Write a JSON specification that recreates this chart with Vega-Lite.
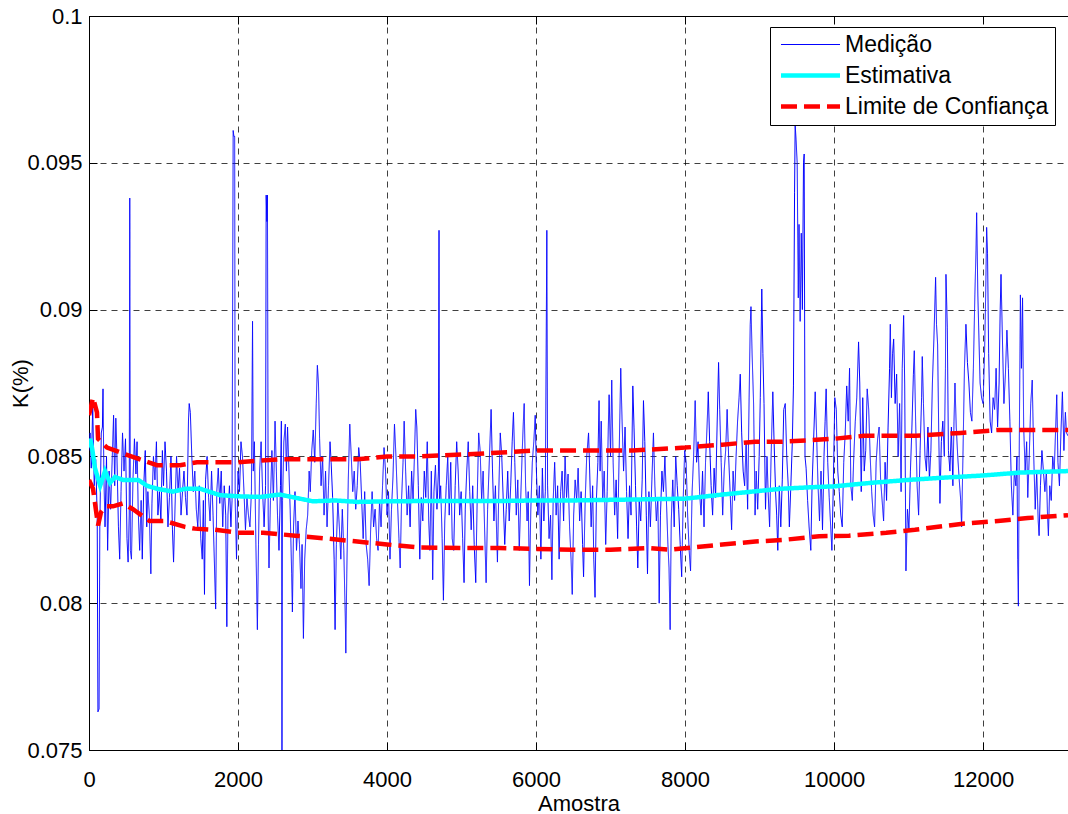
{
  "$schema": "https://vega.github.io/schema/vega-lite/v6.json",
  "width": 979,
  "height": 734,
  "autosize": {"type": "none"},
  "padding": {"left": 89, "top": 16, "right": 0, "bottom": 64},
  "background": "white",
  "config": {
    "font": "Liberation Sans",
    "view": {"stroke": "#000", "strokeWidth": 1},
    "axis": {
      "labelFont": "Liberation Sans",
      "labelFontSize": 22,
      "labelColor": "#000",
      "titleFont": "Liberation Sans",
      "titleFontSize": 22,
      "titleFontWeight": "normal",
      "titleColor": "#000",
      "domainColor": "#000",
      "tickColor": "#000",
      "tickSize": -8,
      "gridColor": "#000",
      "gridOpacity": 0.75,
      "gridDash": [6, 5],
      "gridWidth": 1
    },
    "legend": {
      "orient": "none",
      "legendX": 681,
      "legendY": 11,
      "strokeColor": "#000",
      "fillColor": "#fff",
      "padding": 6,
      "cornerRadius": 0,
      "symbolType": "M-3,0H3",
      "symbolSize": 387,
      "symbolOffset": 23,
      "labelOffset": 23,
      "rowPadding": 7,
      "labelFont": "Liberation Sans",
      "labelFontSize": 23,
      "labelColor": "#000",
      "labelLimit": 400
    }
  },
  "datasets": {
    "medicao": [
      {"amostra":0,"k":0.0852,"serie":"Medição"},{"amostra":15,"k":0.0858,"serie":"Medição"},{"amostra":30,"k":0.0846,"serie":"Medição"},{"amostra":50,"k":0.0867,"serie":"Medição"},{"amostra":70,"k":0.0840,"serie":"Medição"},{"amostra":90,"k":0.0849,"serie":"Medição"},{"amostra":110,"k":0.0830,"serie":"Medição"},{"amostra":120,"k":0.0763,"serie":"Medição"},{"amostra":135,"k":0.0764,"serie":"Medição"},{"amostra":145,"k":0.0826,"serie":"Medição"},{"amostra":165,"k":0.0858,"serie":"Medição"},{"amostra":180,"k":0.0860,"serie":"Medição"},{"amostra":188,"k":0.0873,"serie":"Medição"},{"amostra":200,"k":0.0843,"serie":"Medição"},{"amostra":215,"k":0.0826,"serie":"Medição"},{"amostra":235,"k":0.0850,"serie":"Medição"},{"amostra":250,"k":0.0818,"serie":"Medição"},{"amostra":270,"k":0.0845,"serie":"Medição"},{"amostra":290,"k":0.0832,"serie":"Medição"},{"amostra":310,"k":0.0848,"serie":"Medição"},{"amostra":330,"k":0.0864,"serie":"Medição"},{"amostra":345,"k":0.0840,"serie":"Medição"},{"amostra":360,"k":0.0863,"serie":"Medição"},{"amostra":375,"k":0.0850,"serie":"Medição"},{"amostra":395,"k":0.0826,"serie":"Medição"},{"amostra":412,"k":0.0815,"serie":"Medição"},{"amostra":430,"k":0.0838,"serie":"Medição"},{"amostra":450,"k":0.0858,"serie":"Medição"},{"amostra":470,"k":0.0845,"serie":"Medição"},{"amostra":490,"k":0.0856,"serie":"Medição"},{"amostra":510,"k":0.0822,"serie":"Medição"},{"amostra":525,"k":0.0814,"serie":"Medição"},{"amostra":540,"k":0.0830,"serie":"Medição"},{"amostra":547,"k":0.0938,"serie":"Medição"},{"amostra":555,"k":0.0818,"serie":"Medição"},{"amostra":570,"k":0.0815,"serie":"Medição"},{"amostra":590,"k":0.0842,"serie":"Medição"},{"amostra":610,"k":0.0856,"serie":"Medição"},{"amostra":630,"k":0.0844,"serie":"Medição"},{"amostra":645,"k":0.0855,"serie":"Medição"},{"amostra":660,"k":0.0832,"serie":"Medição"},{"amostra":680,"k":0.0818,"serie":"Medição"},{"amostra":700,"k":0.0835,"serie":"Medição"},{"amostra":715,"k":0.0815,"serie":"Medição"},{"amostra":735,"k":0.0840,"serie":"Medição"},{"amostra":755,"k":0.0852,"serie":"Medição"},{"amostra":775,"k":0.0826,"serie":"Medição"},{"amostra":790,"k":0.0838,"serie":"Medição"},{"amostra":810,"k":0.0830,"serie":"Medição"},{"amostra":830,"k":0.0810,"serie":"Medição"},{"amostra":845,"k":0.0834,"serie":"Medição"},{"amostra":865,"k":0.0850,"serie":"Medição"},{"amostra":885,"k":0.0842,"serie":"Medição"},{"amostra":905,"k":0.0855,"serie":"Medição"},{"amostra":925,"k":0.0830,"serie":"Medição"},{"amostra":945,"k":0.0838,"serie":"Medição"},{"amostra":965,"k":0.0828,"serie":"Medição"},{"amostra":985,"k":0.0852,"serie":"Medição"},{"amostra":1000,"k":0.0840,"serie":"Medição"},{"amostra":1020,"k":0.0855,"serie":"Medição"},{"amostra":1040,"k":0.0845,"serie":"Medição"},{"amostra":1060,"k":0.0826,"serie":"Medição"},{"amostra":1080,"k":0.0836,"serie":"Medição"},{"amostra":1100,"k":0.0850,"serie":"Medição"},{"amostra":1120,"k":0.0825,"serie":"Medição"},{"amostra":1135,"k":0.0814,"serie":"Medição"},{"amostra":1155,"k":0.0833,"serie":"Medição"},{"amostra":1175,"k":0.0850,"serie":"Medição"},{"amostra":1195,"k":0.0838,"serie":"Medição"},{"amostra":1215,"k":0.0846,"serie":"Medição"},{"amostra":1235,"k":0.0830,"serie":"Medição"},{"amostra":1255,"k":0.0838,"serie":"Medição"},{"amostra":1275,"k":0.0845,"serie":"Medição"},{"amostra":1295,"k":0.0836,"serie":"Medição"},{"amostra":1315,"k":0.0830,"serie":"Medição"},{"amostra":1335,"k":0.0862,"serie":"Medição"},{"amostra":1345,"k":0.0868,"serie":"Medição"},{"amostra":1360,"k":0.0865,"serie":"Medição"},{"amostra":1380,"k":0.0850,"serie":"Medição"},{"amostra":1400,"k":0.0838,"serie":"Medição"},{"amostra":1420,"k":0.0845,"serie":"Medição"},{"amostra":1440,"k":0.0832,"serie":"Medição"},{"amostra":1460,"k":0.0826,"serie":"Medição"},{"amostra":1480,"k":0.0840,"serie":"Medição"},{"amostra":1500,"k":0.0822,"serie":"Medição"},{"amostra":1520,"k":0.0815,"serie":"Medição"},{"amostra":1535,"k":0.0835,"serie":"Medição"},{"amostra":1550,"k":0.0803,"serie":"Medição"},{"amostra":1565,"k":0.0842,"serie":"Medição"},{"amostra":1585,"k":0.0850,"serie":"Medição"},{"amostra":1605,"k":0.0836,"serie":"Medição"},{"amostra":1625,"k":0.0828,"serie":"Medição"},{"amostra":1645,"k":0.0845,"serie":"Medição"},{"amostra":1665,"k":0.0830,"serie":"Medição"},{"amostra":1685,"k":0.0812,"serie":"Medição"},{"amostra":1700,"k":0.0798,"serie":"Medição"},{"amostra":1715,"k":0.0838,"serie":"Medição"},{"amostra":1735,"k":0.0846,"serie":"Medição"},{"amostra":1755,"k":0.0834,"serie":"Medição"},{"amostra":1775,"k":0.0845,"serie":"Medição"},{"amostra":1795,"k":0.0826,"serie":"Medição"},{"amostra":1815,"k":0.0840,"serie":"Medição"},{"amostra":1835,"k":0.0830,"serie":"Medição"},{"amostra":1850,"k":0.0792,"serie":"Medição"},{"amostra":1865,"k":0.0830,"serie":"Medição"},{"amostra":1885,"k":0.0840,"serie":"Medição"},{"amostra":1905,"k":0.0826,"serie":"Medição"},{"amostra":1920,"k":0.0835,"serie":"Medição"},{"amostra":1935,"k":0.0961,"serie":"Medição"},{"amostra":1945,"k":0.0959,"serie":"Medição"},{"amostra":1955,"k":0.0959,"serie":"Medição"},{"amostra":1962,"k":0.0835,"serie":"Medição"},{"amostra":1980,"k":0.0815,"serie":"Medição"},{"amostra":2000,"k":0.0845,"serie":"Medição"},{"amostra":2020,"k":0.0838,"serie":"Medição"},{"amostra":2040,"k":0.0855,"serie":"Medição"},{"amostra":2060,"k":0.0850,"serie":"Medição"},{"amostra":2080,"k":0.0838,"serie":"Medição"},{"amostra":2100,"k":0.0825,"serie":"Medição"},{"amostra":2120,"k":0.0836,"serie":"Medição"},{"amostra":2140,"k":0.0830,"serie":"Medição"},{"amostra":2160,"k":0.0826,"serie":"Medição"},{"amostra":2180,"k":0.0838,"serie":"Medição"},{"amostra":2195,"k":0.0896,"serie":"Medição"},{"amostra":2205,"k":0.0845,"serie":"Medição"},{"amostra":2220,"k":0.0855,"serie":"Medição"},{"amostra":2240,"k":0.0820,"serie":"Medição"},{"amostra":2260,"k":0.0791,"serie":"Medição"},{"amostra":2275,"k":0.0820,"serie":"Medição"},
      {"amostra":2290,"k":0.0845,"serie":"Medição"},{"amostra":2310,"k":0.0855,"serie":"Medição"},{"amostra":2330,"k":0.0838,"serie":"Medição"},{"amostra":2350,"k":0.0826,"serie":"Medição"},{"amostra":2370,"k":0.0840,"serie":"Medição"},{"amostra":2378,"k":0.0939,"serie":"Medição"},{"amostra":2388,"k":0.0930,"serie":"Medição"},{"amostra":2395,"k":0.0939,"serie":"Medição"},{"amostra":2405,"k":0.0830,"serie":"Medição"},{"amostra":2416,"k":0.0812,"serie":"Medição"},{"amostra":2435,"k":0.0835,"serie":"Medição"},{"amostra":2455,"k":0.0852,"serie":"Medição"},{"amostra":2475,"k":0.0835,"serie":"Medição"},{"amostra":2497,"k":0.0862,"serie":"Medição"},{"amostra":2515,"k":0.0845,"serie":"Medição"},{"amostra":2530,"k":0.0830,"serie":"Medição"},{"amostra":2550,"k":0.0818,"serie":"Medição"},{"amostra":2570,"k":0.0840,"serie":"Medição"},{"amostra":2582,"k":0.0862,"serie":"Medição"},{"amostra":2590,"k":0.0750,"serie":"Medição"},{"amostra":2598,"k":0.0835,"serie":"Medição"},{"amostra":2615,"k":0.0855,"serie":"Medição"},{"amostra":2635,"k":0.0861,"serie":"Medição"},{"amostra":2650,"k":0.0845,"serie":"Medição"},{"amostra":2665,"k":0.0860,"serie":"Medição"},{"amostra":2680,"k":0.0848,"serie":"Medição"},{"amostra":2700,"k":0.0832,"serie":"Medição"},{"amostra":2720,"k":0.0810,"serie":"Medição"},{"amostra":2730,"k":0.0797,"serie":"Medição"},{"amostra":2745,"k":0.0826,"serie":"Medição"},{"amostra":2765,"k":0.0838,"serie":"Medição"},{"amostra":2785,"k":0.0818,"serie":"Medição"},{"amostra":2805,"k":0.0828,"serie":"Medição"},{"amostra":2825,"k":0.0820,"serie":"Medição"},{"amostra":2845,"k":0.0805,"serie":"Medição"},{"amostra":2860,"k":0.0820,"serie":"Medição"},{"amostra":2878,"k":0.0788,"serie":"Medição"},{"amostra":2895,"k":0.0815,"serie":"Medição"},{"amostra":2915,"k":0.0825,"serie":"Medição"},{"amostra":2935,"k":0.0830,"serie":"Medição"},{"amostra":2955,"k":0.0845,"serie":"Medição"},{"amostra":2970,"k":0.0838,"serie":"Medição"},{"amostra":2990,"k":0.0852,"serie":"Medição"},{"amostra":3010,"k":0.0859,"serie":"Medição"},{"amostra":3030,"k":0.0848,"serie":"Medição"},{"amostra":3050,"k":0.0868,"serie":"Medição"},{"amostra":3065,"k":0.0881,"serie":"Medição"},{"amostra":3080,"k":0.0875,"serie":"Medição"},{"amostra":3095,"k":0.0856,"serie":"Medição"},{"amostra":3115,"k":0.0840,"serie":"Medição"},{"amostra":3135,"k":0.0850,"serie":"Medição"},{"amostra":3155,"k":0.0830,"serie":"Medição"},{"amostra":3175,"k":0.0845,"serie":"Medição"},{"amostra":3195,"k":0.0826,"serie":"Medição"},{"amostra":3215,"k":0.0840,"serie":"Medição"},{"amostra":3235,"k":0.0855,"serie":"Medição"},{"amostra":3250,"k":0.0848,"serie":"Medição"},{"amostra":3270,"k":0.0836,"serie":"Medição"},{"amostra":3290,"k":0.0815,"serie":"Medição"},{"amostra":3303,"k":0.0791,"serie":"Medição"},{"amostra":3320,"k":0.0820,"serie":"Medição"},{"amostra":3340,"k":0.0835,"serie":"Medição"},{"amostra":3360,"k":0.0826,"serie":"Medição"},{"amostra":3380,"k":0.0815,"serie":"Medição"},{"amostra":3400,"k":0.0832,"serie":"Medição"},{"amostra":3420,"k":0.0818,"serie":"Medição"},{"amostra":3440,"k":0.0795,"serie":"Medição"},{"amostra":3447,"k":0.0783,"serie":"Medição"},{"amostra":3460,"k":0.0810,"serie":"Medição"},{"amostra":3480,"k":0.0842,"serie":"Medição"},{"amostra":3500,"k":0.0861,"serie":"Medição"},{"amostra":3520,"k":0.0850,"serie":"Medição"},{"amostra":3540,"k":0.0838,"serie":"Medição"},{"amostra":3560,"k":0.0845,"serie":"Medição"},{"amostra":3580,"k":0.0832,"serie":"Medição"},{"amostra":3600,"k":0.0840,"serie":"Medição"},{"amostra":3620,"k":0.0853,"serie":"Medição"},{"amostra":3640,"k":0.0848,"serie":"Medição"},{"amostra":3660,"k":0.0835,"serie":"Medição"},{"amostra":3680,"k":0.0822,"serie":"Medição"},{"amostra":3700,"k":0.0838,"serie":"Medição"},{"amostra":3720,"k":0.0820,"serie":"Medição"},{"amostra":3740,"k":0.0815,"serie":"Medição"},{"amostra":3760,"k":0.0806,"serie":"Medição"},{"amostra":3780,"k":0.0825,"serie":"Medição"},{"amostra":3800,"k":0.0838,"serie":"Medição"},{"amostra":3820,"k":0.0826,"serie":"Medição"},{"amostra":3840,"k":0.0832,"serie":"Medição"},{"amostra":3860,"k":0.0822,"serie":"Medição"},{"amostra":3880,"k":0.0818,"serie":"Medição"},{"amostra":3900,"k":0.0835,"serie":"Medição"},{"amostra":3920,"k":0.0826,"serie":"Medição"},{"amostra":3940,"k":0.0840,"serie":"Medição"},{"amostra":3960,"k":0.0853,"serie":"Medição"},{"amostra":3980,"k":0.0845,"serie":"Medição"},{"amostra":4000,"k":0.0830,"serie":"Medição"},{"amostra":4020,"k":0.0838,"serie":"Medição"},{"amostra":4040,"k":0.0815,"serie":"Medição"},{"amostra":4060,"k":0.0832,"serie":"Medição"},{"amostra":4080,"k":0.0843,"serie":"Medição"},{"amostra":4100,"k":0.0861,"serie":"Medição"},{"amostra":4120,"k":0.0850,"serie":"Medição"},{"amostra":4140,"k":0.0835,"serie":"Medição"},{"amostra":4160,"k":0.0822,"serie":"Medição"},{"amostra":4177,"k":0.0812,"serie":"Medição"},{"amostra":4195,"k":0.0835,"serie":"Medição"},{"amostra":4215,"k":0.0848,"serie":"Medição"},{"amostra":4230,"k":0.0862,"serie":"Medição"},{"amostra":4250,"k":0.0845,"serie":"Medição"},{"amostra":4270,"k":0.0830,"serie":"Medição"},{"amostra":4290,"k":0.0840,"serie":"Medição"},{"amostra":4310,"k":0.0826,"serie":"Medição"},{"amostra":4330,"k":0.0845,"serie":"Medição"},{"amostra":4350,"k":0.0835,"serie":"Medição"},{"amostra":4370,"k":0.0852,"serie":"Medição"},{"amostra":4385,"k":0.0866,"serie":"Medição"},{"amostra":4400,"k":0.0860,"serie":"Medição"},{"amostra":4420,"k":0.0840,"serie":"Medição"},{"amostra":4440,"k":0.0815,"serie":"Medição"},{"amostra":4460,"k":0.0836,"serie":"Medição"},{"amostra":4480,"k":0.0828,"serie":"Medição"},{"amostra":4500,"k":0.0845,"serie":"Medição"},
      {"amostra":4520,"k":0.0836,"serie":"Medição"},{"amostra":4540,"k":0.0855,"serie":"Medição"},{"amostra":4560,"k":0.0828,"serie":"Medição"},{"amostra":4575,"k":0.0818,"serie":"Medição"},{"amostra":4595,"k":0.0845,"serie":"Medição"},{"amostra":4613,"k":0.0808,"serie":"Medição"},{"amostra":4630,"k":0.0838,"serie":"Medição"},{"amostra":4650,"k":0.0847,"serie":"Medição"},{"amostra":4670,"k":0.0832,"serie":"Medição"},{"amostra":4690,"k":0.0845,"serie":"Medição"},{"amostra":4698,"k":0.0927,"serie":"Medição"},{"amostra":4705,"k":0.0835,"serie":"Medição"},{"amostra":4720,"k":0.0840,"serie":"Medição"},{"amostra":4740,"k":0.0822,"serie":"Medição"},{"amostra":4757,"k":0.0801,"serie":"Medição"},{"amostra":4775,"k":0.0828,"serie":"Medição"},{"amostra":4795,"k":0.0840,"serie":"Medição"},{"amostra":4815,"k":0.0850,"serie":"Medição"},{"amostra":4835,"k":0.0830,"serie":"Medição"},{"amostra":4855,"k":0.0848,"serie":"Medição"},{"amostra":4875,"k":0.0822,"serie":"Medição"},{"amostra":4895,"k":0.0818,"serie":"Medição"},{"amostra":4915,"k":0.0840,"serie":"Medição"},{"amostra":4935,"k":0.0855,"serie":"Medição"},{"amostra":4955,"k":0.0845,"serie":"Medição"},{"amostra":4975,"k":0.0830,"serie":"Medição"},{"amostra":4995,"k":0.0838,"serie":"Medição"},{"amostra":5015,"k":0.0822,"serie":"Medição"},{"amostra":5034,"k":0.0807,"serie":"Medição"},{"amostra":5050,"k":0.0832,"serie":"Medição"},{"amostra":5070,"k":0.0845,"serie":"Medição"},{"amostra":5090,"k":0.0855,"serie":"Medição"},{"amostra":5110,"k":0.0838,"serie":"Medição"},{"amostra":5130,"k":0.0825,"serie":"Medição"},{"amostra":5150,"k":0.0840,"serie":"Medição"},{"amostra":5170,"k":0.0820,"serie":"Medição"},{"amostra":5191,"k":0.0807,"serie":"Medição"},{"amostra":5210,"k":0.0835,"serie":"Medição"},{"amostra":5230,"k":0.0858,"serie":"Medição"},{"amostra":5250,"k":0.0852,"serie":"Medição"},{"amostra":5270,"k":0.0835,"serie":"Medição"},{"amostra":5290,"k":0.0845,"serie":"Medição"},{"amostra":5310,"k":0.0825,"serie":"Medição"},{"amostra":5330,"k":0.0807,"serie":"Medição"},{"amostra":5350,"k":0.0832,"serie":"Medição"},{"amostra":5375,"k":0.0850,"serie":"Medição"},{"amostra":5397,"k":0.0866,"serie":"Medição"},{"amostra":5415,"k":0.0846,"serie":"Medição"},{"amostra":5435,"k":0.0828,"serie":"Medição"},{"amostra":5455,"k":0.0840,"serie":"Medição"},{"amostra":5470,"k":0.0825,"serie":"Medição"},{"amostra":5482,"k":0.0814,"serie":"Medição"},{"amostra":5500,"k":0.0838,"serie":"Medição"},{"amostra":5520,"k":0.0858,"serie":"Medição"},{"amostra":5540,"k":0.0850,"serie":"Medição"},{"amostra":5560,"k":0.0835,"serie":"Medição"},{"amostra":5580,"k":0.0820,"serie":"Medição"},{"amostra":5600,"k":0.0832,"serie":"Medição"},{"amostra":5620,"k":0.0845,"serie":"Medição"},{"amostra":5640,"k":0.0828,"serie":"Medição"},{"amostra":5660,"k":0.0840,"serie":"Medição"},{"amostra":5680,"k":0.0855,"serie":"Medição"},{"amostra":5697,"k":0.0865,"serie":"Medição"},{"amostra":5715,"k":0.0848,"serie":"Medição"},{"amostra":5735,"k":0.0830,"serie":"Medição"},{"amostra":5755,"k":0.0842,"serie":"Medição"},{"amostra":5775,"k":0.0818,"serie":"Medição"},{"amostra":5795,"k":0.0836,"serie":"Medição"},{"amostra":5815,"k":0.0852,"serie":"Medição"},{"amostra":5830,"k":0.0862,"serie":"Medição"},{"amostra":5841,"k":0.0868,"serie":"Medição"},{"amostra":5860,"k":0.0840,"serie":"Medição"},{"amostra":5880,"k":0.0828,"serie":"Medição"},{"amostra":5895,"k":0.0838,"serie":"Medição"},{"amostra":5912,"k":0.0806,"serie":"Medição"},{"amostra":5930,"k":0.0832,"serie":"Medição"},{"amostra":5950,"k":0.0848,"serie":"Medição"},{"amostra":5970,"k":0.0855,"serie":"Medição"},{"amostra":5989,"k":0.0864,"serie":"Medição"},{"amostra":6005,"k":0.0845,"serie":"Medição"},{"amostra":6025,"k":0.0830,"serie":"Medição"},{"amostra":6045,"k":0.0840,"serie":"Medição"},{"amostra":6065,"k":0.0815,"serie":"Medição"},{"amostra":6085,"k":0.0846,"serie":"Medição"},{"amostra":6105,"k":0.0828,"serie":"Medição"},{"amostra":6125,"k":0.0838,"serie":"Medição"},{"amostra":6145,"k":0.0927,"serie":"Medição"},{"amostra":6155,"k":0.0840,"serie":"Medição"},{"amostra":6175,"k":0.0822,"serie":"Medição"},{"amostra":6195,"k":0.0830,"serie":"Medição"},{"amostra":6213,"k":0.0808,"serie":"Medição"},{"amostra":6230,"k":0.0835,"serie":"Medição"},{"amostra":6250,"k":0.0848,"serie":"Medição"},{"amostra":6270,"k":0.0830,"serie":"Medição"},{"amostra":6290,"k":0.0840,"serie":"Medição"},{"amostra":6310,"k":0.0815,"serie":"Medição"},{"amostra":6330,"k":0.0838,"serie":"Medição"},{"amostra":6350,"k":0.0845,"serie":"Medição"},{"amostra":6370,"k":0.0828,"serie":"Medição"},{"amostra":6390,"k":0.0850,"serie":"Medição"},{"amostra":6410,"k":0.0836,"serie":"Medição"},{"amostra":6430,"k":0.0844,"serie":"Medição"},{"amostra":6450,"k":0.0826,"serie":"Medição"},{"amostra":6470,"k":0.0815,"serie":"Medição"},{"amostra":6486,"k":0.0803,"serie":"Medição"},{"amostra":6505,"k":0.0830,"serie":"Medição"},{"amostra":6525,"k":0.0842,"serie":"Medição"},{"amostra":6545,"k":0.0835,"serie":"Medição"},{"amostra":6565,"k":0.0846,"serie":"Medição"},{"amostra":6585,"k":0.0828,"serie":"Medição"},{"amostra":6605,"k":0.0838,"serie":"Medição"},{"amostra":6625,"k":0.0820,"serie":"Medição"},{"amostra":6638,"k":0.0809,"serie":"Medição"},{"amostra":6660,"k":0.0835,"serie":"Medição"},{"amostra":6680,"k":0.0850,"serie":"Medição"},{"amostra":6705,"k":0.0858,"serie":"Medição"},{"amostra":6720,"k":0.0845,"serie":"Medição"},
      {"amostra":6740,"k":0.0826,"serie":"Medição"},{"amostra":6760,"k":0.0840,"serie":"Medição"},{"amostra":6775,"k":0.0815,"serie":"Medição"},{"amostra":6792,"k":0.0802,"serie":"Medição"},{"amostra":6810,"k":0.0835,"serie":"Medição"},{"amostra":6830,"k":0.0848,"serie":"Medição"},{"amostra":6846,"k":0.0869,"serie":"Medição"},{"amostra":6860,"k":0.0845,"serie":"Medição"},{"amostra":6875,"k":0.0862,"serie":"Medição"},{"amostra":6895,"k":0.0835,"serie":"Medição"},{"amostra":6915,"k":0.0845,"serie":"Medição"},{"amostra":6935,"k":0.0820,"serie":"Medição"},{"amostra":6955,"k":0.0838,"serie":"Medição"},{"amostra":6970,"k":0.0860,"serie":"Medição"},{"amostra":6981,"k":0.0871,"serie":"Medição"},{"amostra":7000,"k":0.0850,"serie":"Medição"},{"amostra":7016,"k":0.0876,"serie":"Medição"},{"amostra":7035,"k":0.0848,"serie":"Medição"},{"amostra":7055,"k":0.0830,"serie":"Medição"},{"amostra":7075,"k":0.0842,"serie":"Medição"},{"amostra":7095,"k":0.0822,"serie":"Medição"},{"amostra":7115,"k":0.0850,"serie":"Medição"},{"amostra":7137,"k":0.0880,"serie":"Medição"},{"amostra":7155,"k":0.0862,"serie":"Medição"},{"amostra":7175,"k":0.0845,"serie":"Medição"},{"amostra":7195,"k":0.0860,"serie":"Medição"},{"amostra":7215,"k":0.0838,"serie":"Medição"},{"amostra":7235,"k":0.0822,"serie":"Medição"},{"amostra":7255,"k":0.0840,"serie":"Medição"},{"amostra":7275,"k":0.0830,"serie":"Medição"},{"amostra":7299,"k":0.0874,"serie":"Medição"},{"amostra":7315,"k":0.0860,"serie":"Medição"},{"amostra":7335,"k":0.0840,"serie":"Medição"},{"amostra":7350,"k":0.0826,"serie":"Medição"},{"amostra":7366,"k":0.0812,"serie":"Medição"},{"amostra":7385,"k":0.0835,"serie":"Medição"},{"amostra":7405,"k":0.0828,"serie":"Medição"},{"amostra":7425,"k":0.0842,"serie":"Medição"},{"amostra":7442,"k":0.0869,"serie":"Medição"},{"amostra":7460,"k":0.0855,"serie":"Medição"},{"amostra":7480,"k":0.0830,"serie":"Medição"},{"amostra":7496,"k":0.0810,"serie":"Medição"},{"amostra":7515,"k":0.0838,"serie":"Medição"},{"amostra":7535,"k":0.0826,"serie":"Medição"},{"amostra":7555,"k":0.0842,"serie":"Medição"},{"amostra":7576,"k":0.0858,"serie":"Medição"},{"amostra":7595,"k":0.0840,"serie":"Medição"},{"amostra":7615,"k":0.0828,"serie":"Medição"},{"amostra":7635,"k":0.0836,"serie":"Medição"},{"amostra":7653,"k":0.0800,"serie":"Medição"},{"amostra":7670,"k":0.0830,"serie":"Medição"},{"amostra":7690,"k":0.0845,"serie":"Medição"},{"amostra":7710,"k":0.0838,"serie":"Medição"},{"amostra":7730,"k":0.0850,"serie":"Medição"},{"amostra":7750,"k":0.0835,"serie":"Medição"},{"amostra":7770,"k":0.0820,"serie":"Medição"},{"amostra":7785,"k":0.0812,"serie":"Medição"},{"amostra":7800,"k":0.0791,"serie":"Medição"},{"amostra":7815,"k":0.0828,"serie":"Medição"},{"amostra":7835,"k":0.0842,"serie":"Medição"},{"amostra":7855,"k":0.0826,"serie":"Medição"},{"amostra":7875,"k":0.0850,"serie":"Medição"},{"amostra":7895,"k":0.0840,"serie":"Medição"},{"amostra":7915,"k":0.0832,"serie":"Medição"},{"amostra":7935,"k":0.0820,"serie":"Medição"},{"amostra":7955,"k":0.0809,"serie":"Medição"},{"amostra":7975,"k":0.0835,"serie":"Medição"},{"amostra":7995,"k":0.0852,"serie":"Medição"},{"amostra":8015,"k":0.0848,"serie":"Medição"},{"amostra":8035,"k":0.0830,"serie":"Medição"},{"amostra":8055,"k":0.0818,"serie":"Medição"},{"amostra":8074,"k":0.0811,"serie":"Medição"},{"amostra":8095,"k":0.0838,"serie":"Medição"},{"amostra":8115,"k":0.0850,"serie":"Medição"},{"amostra":8136,"k":0.0869,"serie":"Medição"},{"amostra":8155,"k":0.0848,"serie":"Medição"},{"amostra":8175,"k":0.0855,"serie":"Medição"},{"amostra":8195,"k":0.0838,"serie":"Medição"},{"amostra":8215,"k":0.0830,"serie":"Medição"},{"amostra":8235,"k":0.0845,"serie":"Medição"},{"amostra":8255,"k":0.0826,"serie":"Medição"},{"amostra":8275,"k":0.0848,"serie":"Medição"},{"amostra":8295,"k":0.0860,"serie":"Medição"},{"amostra":8312,"k":0.0872,"serie":"Medição"},{"amostra":8330,"k":0.0855,"serie":"Medição"},{"amostra":8350,"k":0.0840,"serie":"Medição"},{"amostra":8370,"k":0.0830,"serie":"Medição"},{"amostra":8390,"k":0.0846,"serie":"Medição"},{"amostra":8410,"k":0.0836,"serie":"Medição"},{"amostra":8430,"k":0.0860,"serie":"Medição"},{"amostra":8450,"k":0.0882,"serie":"Medição"},{"amostra":8465,"k":0.0866,"serie":"Medição"},{"amostra":8485,"k":0.0848,"serie":"Medição"},{"amostra":8505,"k":0.0830,"serie":"Medição"},{"amostra":8525,"k":0.0845,"serie":"Medição"},{"amostra":8545,"k":0.0852,"serie":"Medição"},{"amostra":8565,"k":0.0866,"serie":"Medição"},{"amostra":8585,"k":0.0850,"serie":"Medição"},{"amostra":8605,"k":0.0838,"serie":"Medição"},{"amostra":8625,"k":0.0825,"serie":"Medição"},{"amostra":8645,"k":0.0845,"serie":"Medição"},{"amostra":8665,"k":0.0835,"serie":"Medição"},{"amostra":8685,"k":0.0850,"serie":"Medição"},{"amostra":8705,"k":0.0862,"serie":"Medição"},{"amostra":8725,"k":0.0870,"serie":"Medição"},{"amostra":8741,"k":0.0878,"serie":"Medição"},{"amostra":8760,"k":0.0858,"serie":"Medição"},{"amostra":8780,"k":0.0845,"serie":"Medição"},{"amostra":8800,"k":0.0840,"serie":"Medição"},{"amostra":8820,"k":0.0855,"serie":"Medição"},{"amostra":8840,"k":0.0832,"serie":"Medição"},{"amostra":8860,"k":0.0870,"serie":"Medição"},{"amostra":8875,"k":0.0895,"serie":"Medição"},{"amostra":8885,"k":0.0901,"serie":"Medição"},{"amostra":8900,"k":0.0885,"serie":"Medição"},{"amostra":8920,"k":0.0868,"serie":"Medição"},{"amostra":8940,"k":0.0830,"serie":"Medição"},
      {"amostra":8955,"k":0.0845,"serie":"Medição"},{"amostra":8975,"k":0.0832,"serie":"Medição"},{"amostra":8995,"k":0.0850,"serie":"Medição"},{"amostra":9010,"k":0.0870,"serie":"Medição"},{"amostra":9030,"k":0.0907,"serie":"Medição"},{"amostra":9045,"k":0.0885,"serie":"Medição"},{"amostra":9060,"k":0.0868,"serie":"Medição"},{"amostra":9080,"k":0.0832,"serie":"Medição"},{"amostra":9100,"k":0.0850,"serie":"Medição"},{"amostra":9115,"k":0.0838,"serie":"Medição"},{"amostra":9135,"k":0.0826,"serie":"Medição"},{"amostra":9155,"k":0.0850,"serie":"Medição"},{"amostra":9178,"k":0.0872,"serie":"Medição"},{"amostra":9195,"k":0.0855,"serie":"Medição"},{"amostra":9215,"k":0.0838,"serie":"Medição"},{"amostra":9230,"k":0.0830,"serie":"Medição"},{"amostra":9245,"k":0.0818,"serie":"Medição"},{"amostra":9265,"k":0.0840,"serie":"Medição"},{"amostra":9285,"k":0.0826,"serie":"Medição"},{"amostra":9305,"k":0.0842,"serie":"Medição"},{"amostra":9325,"k":0.0866,"serie":"Medição"},{"amostra":9345,"k":0.0868,"serie":"Medição"},{"amostra":9365,"k":0.0850,"serie":"Medição"},{"amostra":9385,"k":0.0840,"serie":"Medição"},{"amostra":9400,"k":0.0826,"serie":"Medição"},{"amostra":9420,"k":0.0840,"serie":"Medição"},{"amostra":9440,"k":0.0855,"serie":"Medição"},{"amostra":9455,"k":0.0874,"serie":"Medição"},{"amostra":9470,"k":0.0940,"serie":"Medição"},{"amostra":9478,"k":0.0963,"serie":"Medição"},{"amostra":9490,"k":0.0958,"serie":"Medição"},{"amostra":9505,"k":0.0950,"serie":"Medição"},{"amostra":9520,"k":0.0904,"serie":"Medição"},{"amostra":9530,"k":0.0929,"serie":"Medição"},{"amostra":9545,"k":0.0896,"serie":"Medição"},{"amostra":9560,"k":0.0926,"serie":"Medição"},{"amostra":9575,"k":0.0900,"serie":"Medição"},{"amostra":9590,"k":0.0950,"serie":"Medição"},{"amostra":9599,"k":0.0953,"serie":"Medição"},{"amostra":9610,"k":0.0850,"serie":"Medição"},{"amostra":9625,"k":0.0846,"serie":"Medição"},{"amostra":9645,"k":0.0835,"serie":"Medição"},{"amostra":9665,"k":0.0826,"serie":"Medição"},{"amostra":9688,"k":0.0818,"serie":"Medição"},{"amostra":9705,"k":0.0840,"serie":"Medição"},{"amostra":9725,"k":0.0855,"serie":"Medição"},{"amostra":9747,"k":0.0872,"serie":"Medição"},{"amostra":9765,"k":0.0858,"serie":"Medição"},{"amostra":9785,"k":0.0840,"serie":"Medição"},{"amostra":9805,"k":0.0828,"serie":"Medição"},{"amostra":9825,"k":0.0845,"serie":"Medição"},{"amostra":9845,"k":0.0825,"serie":"Medição"},{"amostra":9865,"k":0.0850,"serie":"Medição"},{"amostra":9880,"k":0.0862,"serie":"Medição"},{"amostra":9894,"k":0.0873,"serie":"Medição"},{"amostra":9915,"k":0.0848,"serie":"Medição"},{"amostra":9935,"k":0.0836,"serie":"Medição"},{"amostra":9955,"k":0.0826,"serie":"Medição"},{"amostra":9971,"k":0.0818,"serie":"Medição"},{"amostra":9990,"k":0.0840,"serie":"Medição"},{"amostra":10010,"k":0.0870,"serie":"Medição"},{"amostra":10030,"k":0.0866,"serie":"Medição"},{"amostra":10050,"k":0.0845,"serie":"Medição"},{"amostra":10070,"k":0.0838,"serie":"Medição"},{"amostra":10090,"k":0.0830,"serie":"Medição"},{"amostra":10110,"k":0.0826,"serie":"Medição"},{"amostra":10130,"k":0.0848,"serie":"Medição"},{"amostra":10150,"k":0.0858,"serie":"Medição"},{"amostra":10170,"k":0.0874,"serie":"Medição"},{"amostra":10190,"k":0.0862,"serie":"Medição"},{"amostra":10208,"k":0.0880,"serie":"Medição"},{"amostra":10225,"k":0.0840,"serie":"Medição"},{"amostra":10245,"k":0.0835,"serie":"Medição"},{"amostra":10265,"k":0.0850,"serie":"Medição"},{"amostra":10285,"k":0.0862,"serie":"Medição"},{"amostra":10305,"k":0.0870,"serie":"Medição"},{"amostra":10329,"k":0.0889,"serie":"Medição"},{"amostra":10345,"k":0.0875,"serie":"Medição"},{"amostra":10365,"k":0.0838,"serie":"Medição"},{"amostra":10385,"k":0.0870,"serie":"Medição"},{"amostra":10405,"k":0.0845,"serie":"Medição"},{"amostra":10425,"k":0.0852,"serie":"Medição"},{"amostra":10445,"k":0.0873,"serie":"Medição"},{"amostra":10465,"k":0.0866,"serie":"Medição"},{"amostra":10485,"k":0.0850,"serie":"Medição"},{"amostra":10505,"k":0.0838,"serie":"Medição"},{"amostra":10525,"k":0.0830,"serie":"Medição"},{"amostra":10544,"k":0.0826,"serie":"Medição"},{"amostra":10565,"k":0.0848,"serie":"Medição"},{"amostra":10585,"k":0.0856,"serie":"Medição"},{"amostra":10605,"k":0.0860,"serie":"Medição"},{"amostra":10625,"k":0.0842,"serie":"Medição"},{"amostra":10645,"k":0.0835,"serie":"Medição"},{"amostra":10665,"k":0.0828,"serie":"Medição"},{"amostra":10685,"k":0.0848,"serie":"Medição"},{"amostra":10705,"k":0.0835,"serie":"Medição"},{"amostra":10725,"k":0.0860,"serie":"Medição"},{"amostra":10745,"k":0.0880,"serie":"Medição"},{"amostra":10755,"k":0.0895,"serie":"Medição"},{"amostra":10770,"k":0.0870,"serie":"Medição"},{"amostra":10785,"k":0.0885,"serie":"Medição"},{"amostra":10800,"k":0.0890,"serie":"Medição"},{"amostra":10820,"k":0.0868,"serie":"Medição"},{"amostra":10840,"k":0.0878,"serie":"Medição"},{"amostra":10860,"k":0.0850,"serie":"Medição"},{"amostra":10880,"k":0.0868,"serie":"Medição"},{"amostra":10900,"k":0.0838,"serie":"Medição"},{"amostra":10915,"k":0.0880,"serie":"Medição"},{"amostra":10934,"k":0.0898,"serie":"Medição"},{"amostra":10948,"k":0.0875,"serie":"Medição"},{"amostra":10965,"k":0.0811,"serie":"Medição"},{"amostra":10985,"k":0.0832,"serie":"Medição"},{"amostra":11005,"k":0.0825,"serie":"Medição"},{"amostra":11025,"k":0.0845,"serie":"Medição"},{"amostra":11045,"k":0.0860,"serie":"Medição"},{"amostra":11065,"k":0.0878,"serie":"Medição"},{"amostra":11077,"k":0.0886,"serie":"Medição"},{"amostra":11095,"k":0.0862,"serie":"Medição"},{"amostra":11115,"k":0.0840,"serie":"Medição"},{"amostra":11135,"k":0.0830,"serie":"Medição"},{"amostra":11155,"k":0.0852,"serie":"Medição"},
      {"amostra":11175,"k":0.0870,"serie":"Medição"},{"amostra":11184,"k":0.0884,"serie":"Medição"},{"amostra":11200,"k":0.0868,"serie":"Medição"},{"amostra":11220,"k":0.0850,"serie":"Medição"},{"amostra":11240,"k":0.0845,"serie":"Medição"},{"amostra":11260,"k":0.0860,"serie":"Medição"},{"amostra":11280,"k":0.0842,"serie":"Medição"},{"amostra":11300,"k":0.0852,"serie":"Medição"},{"amostra":11320,"k":0.0875,"serie":"Medição"},{"amostra":11340,"k":0.0890,"serie":"Medição"},{"amostra":11363,"k":0.0911,"serie":"Medição"},{"amostra":11375,"k":0.0895,"serie":"Medição"},{"amostra":11390,"k":0.0888,"serie":"Medição"},{"amostra":11405,"k":0.0858,"serie":"Medição"},{"amostra":11421,"k":0.0834,"serie":"Medição"},{"amostra":11440,"k":0.0855,"serie":"Medição"},{"amostra":11460,"k":0.0862,"serie":"Medição"},{"amostra":11480,"k":0.0850,"serie":"Medição"},{"amostra":11495,"k":0.0880,"serie":"Medição"},{"amostra":11502,"k":0.0912,"serie":"Medição"},{"amostra":11520,"k":0.0894,"serie":"Medição"},{"amostra":11535,"k":0.0852,"serie":"Medição"},{"amostra":11555,"k":0.0845,"serie":"Medição"},{"amostra":11575,"k":0.0860,"serie":"Medição"},{"amostra":11595,"k":0.0840,"serie":"Medição"},{"amostra":11610,"k":0.0862,"serie":"Medição"},{"amostra":11623,"k":0.0875,"serie":"Medição"},{"amostra":11640,"k":0.0860,"serie":"Medição"},{"amostra":11660,"k":0.0850,"serie":"Medição"},{"amostra":11680,"k":0.0842,"serie":"Medição"},{"amostra":11700,"k":0.0835,"serie":"Medição"},{"amostra":11712,"k":0.0826,"serie":"Medição"},{"amostra":11730,"k":0.0850,"serie":"Medição"},{"amostra":11750,"k":0.0880,"serie":"Medição"},{"amostra":11770,"k":0.0895,"serie":"Medição"},{"amostra":11790,"k":0.0882,"serie":"Medição"},{"amostra":11810,"k":0.0875,"serie":"Medição"},{"amostra":11830,"k":0.0865,"serie":"Medição"},{"amostra":11850,"k":0.0862,"serie":"Medição"},{"amostra":11870,"k":0.0880,"serie":"Medição"},{"amostra":11890,"k":0.0905,"serie":"Medição"},{"amostra":11905,"k":0.0920,"serie":"Medição"},{"amostra":11914,"k":0.0933,"serie":"Medição"},{"amostra":11930,"k":0.0905,"serie":"Medição"},{"amostra":11945,"k":0.0890,"serie":"Medição"},{"amostra":11960,"k":0.0875,"serie":"Medição"},{"amostra":11980,"k":0.0870,"serie":"Medição"},{"amostra":12000,"k":0.0868,"serie":"Medição"},{"amostra":12020,"k":0.0885,"serie":"Medição"},{"amostra":12035,"k":0.0905,"serie":"Medição"},{"amostra":12048,"k":0.0928,"serie":"Medição"},{"amostra":12060,"k":0.0919,"serie":"Medição"},{"amostra":12075,"k":0.0885,"serie":"Medição"},{"amostra":12095,"k":0.0862,"serie":"Medição"},{"amostra":12115,"k":0.0858,"serie":"Medição"},{"amostra":12135,"k":0.0870,"serie":"Medição"},{"amostra":12155,"k":0.0866,"serie":"Medição"},{"amostra":12175,"k":0.0880,"serie":"Medição"},{"amostra":12195,"k":0.0860,"serie":"Medição"},{"amostra":12215,"k":0.0875,"serie":"Medição"},{"amostra":12230,"k":0.0900,"serie":"Medição"},{"amostra":12241,"k":0.0912,"serie":"Medição"},{"amostra":12260,"k":0.0890,"serie":"Medição"},{"amostra":12280,"k":0.0868,"serie":"Medição"},{"amostra":12300,"k":0.0878,"serie":"Medição"},{"amostra":12320,"k":0.0893,"serie":"Medição"},{"amostra":12340,"k":0.0880,"serie":"Medição"},{"amostra":12360,"k":0.0862,"serie":"Medição"},{"amostra":12380,"k":0.0840,"serie":"Medição"},{"amostra":12400,"k":0.0830,"serie":"Medição"},{"amostra":12420,"k":0.0845,"serie":"Medição"},{"amostra":12440,"k":0.0840,"serie":"Medição"},{"amostra":12455,"k":0.0850,"serie":"Medição"},{"amostra":12465,"k":0.0815,"serie":"Medição"},{"amostra":12474,"k":0.0799,"serie":"Medição"},{"amostra":12485,"k":0.0850,"serie":"Medição"},{"amostra":12501,"k":0.0905,"serie":"Medição"},{"amostra":12515,"k":0.0880,"serie":"Medição"},{"amostra":12530,"k":0.0904,"serie":"Medição"},{"amostra":12545,"k":0.0860,"serie":"Medição"},{"amostra":12565,"k":0.0845,"serie":"Medição"},{"amostra":12585,"k":0.0855,"serie":"Medição"},{"amostra":12600,"k":0.0836,"serie":"Medição"},{"amostra":12620,"k":0.0850,"serie":"Medição"},{"amostra":12640,"k":0.0868,"serie":"Medição"},{"amostra":12660,"k":0.0876,"serie":"Medição"},{"amostra":12680,"k":0.0850,"serie":"Medição"},{"amostra":12700,"k":0.0832,"serie":"Medição"},{"amostra":12720,"k":0.0845,"serie":"Medição"},{"amostra":12740,"k":0.0828,"serie":"Medição"},{"amostra":12752,"k":0.0823,"serie":"Medição"},{"amostra":12770,"k":0.0840,"serie":"Medição"},{"amostra":12790,"k":0.0852,"serie":"Medição"},{"amostra":12810,"k":0.0845,"serie":"Medição"},{"amostra":12830,"k":0.0838,"serie":"Medição"},{"amostra":12850,"k":0.0845,"serie":"Medição"},{"amostra":12865,"k":0.0830,"serie":"Medição"},{"amostra":12877,"k":0.0823,"serie":"Medição"},{"amostra":12895,"k":0.0840,"serie":"Medição"},{"amostra":12915,"k":0.0835,"serie":"Medição"},{"amostra":12935,"k":0.0850,"serie":"Medição"},{"amostra":12955,"k":0.0845,"serie":"Medição"},{"amostra":12975,"k":0.0860,"serie":"Medição"},{"amostra":12989,"k":0.0871,"serie":"Medição"},{"amostra":13005,"k":0.0848,"serie":"Medição"},{"amostra":13025,"k":0.0840,"serie":"Medição"},{"amostra":13045,"k":0.0858,"serie":"Medição"},{"amostra":13065,"k":0.0872,"serie":"Medição"},{"amostra":13085,"k":0.0852,"serie":"Medição"},{"amostra":13105,"k":0.0865,"serie":"Medição"},{"amostra":13120,"k":0.0858,"serie":"Medição"},{"amostra":13140,"k":0.0857,"serie":"Medição"}
    ],
    "estimativa": [
      {"amostra":0,"k":0.0853,"serie":"Estimativa"},{"amostra":15,"k":0.0856,"serie":"Estimativa"},{"amostra":40,"k":0.0853,"serie":"Estimativa"},{"amostra":80,"k":0.0846,"serie":"Estimativa"},{"amostra":150,"k":0.0840,"serie":"Estimativa"},{"amostra":215,"k":0.0845,"serie":"Estimativa"},{"amostra":282,"k":0.0841,"serie":"Estimativa"},{"amostra":349,"k":0.0843,"serie":"Estimativa"},{"amostra":456,"k":0.0842,"serie":"Estimativa"},{"amostra":660,"k":0.0842,"serie":"Estimativa"},{"amostra":778,"k":0.0840,"serie":"Estimativa"},{"amostra":912,"k":0.0839,"serie":"Estimativa"},{"amostra":1127,"k":0.0838,"serie":"Estimativa"},{"amostra":1300,"k":0.0839,"serie":"Estimativa"},{"amostra":1490,"k":0.0839,"serie":"Estimativa"},{"amostra":1758,"k":0.08368,"serie":"Estimativa"},{"amostra":2000,"k":0.08364,"serie":"Estimativa"},{"amostra":2300,"k":0.08362,"serie":"Estimativa"},{"amostra":2563,"k":0.0837,"serie":"Estimativa"},{"amostra":3006,"k":0.08347,"serie":"Estimativa"},{"amostra":3300,"k":0.0835,"serie":"Estimativa"},{"amostra":3600,"k":0.08345,"serie":"Estimativa"},{"amostra":4000,"k":0.08347,"serie":"Estimativa"},{"amostra":4500,"k":0.08348,"serie":"Estimativa"},{"amostra":5000,"k":0.08348,"serie":"Estimativa"},{"amostra":5500,"k":0.08348,"serie":"Estimativa"},{"amostra":6000,"k":0.0835,"serie":"Estimativa"},{"amostra":6500,"k":0.0835,"serie":"Estimativa"},{"amostra":7000,"k":0.08352,"serie":"Estimativa"},{"amostra":7500,"k":0.08354,"serie":"Estimativa"},{"amostra":8000,"k":0.08356,"serie":"Estimativa"},{"amostra":8500,"k":0.0837,"serie":"Estimativa"},{"amostra":8900,"k":0.0838,"serie":"Estimativa"},{"amostra":9300,"k":0.0839,"serie":"Estimativa"},{"amostra":9700,"k":0.08395,"serie":"Estimativa"},{"amostra":10000,"k":0.08398,"serie":"Estimativa"},{"amostra":10500,"k":0.0841,"serie":"Estimativa"},{"amostra":11000,"k":0.0842,"serie":"Estimativa"},{"amostra":11500,"k":0.08428,"serie":"Estimativa"},{"amostra":12000,"k":0.08435,"serie":"Estimativa"},{"amostra":12500,"k":0.08445,"serie":"Estimativa"},{"amostra":13140,"k":0.0845,"serie":"Estimativa"}
    ],
    "limites": [
      {"amostra":0,"k":0.0864,"banda":"superior","serie":"Limite de Confiança"},{"amostra":54,"k":0.0870,"banda":"superior","serie":"Limite de Confiança"},{"amostra":107,"k":0.0865,"banda":"superior","serie":"Limite de Confiança"},{"amostra":121,"k":0.0856,"banda":"superior","serie":"Limite de Confiança"},{"amostra":242,"k":0.0853,"banda":"superior","serie":"Limite de Confiança"},{"amostra":456,"k":0.0851,"banda":"superior","serie":"Limite de Confiança"},{"amostra":684,"k":0.0849,"banda":"superior","serie":"Limite de Confiança"},{"amostra":912,"k":0.0847,"banda":"superior","serie":"Limite de Confiança"},{"amostra":1221,"k":0.0847,"banda":"superior","serie":"Limite de Confiança"},{"amostra":1449,"k":0.0848,"banda":"superior","serie":"Limite de Confiança"},{"amostra":1986,"k":0.0848,"banda":"superior","serie":"Limite de Confiança"},{"amostra":2563,"k":0.0849,"banda":"superior","serie":"Limite de Confiança"},{"amostra":3006,"k":0.0849,"banda":"superior","serie":"Limite de Confiança"},{"amostra":3600,"k":0.0849,"banda":"superior","serie":"Limite de Confiança"},{"amostra":4000,"k":0.0850,"banda":"superior","serie":"Limite de Confiança"},{"amostra":4443,"k":0.0850,"banda":"superior","serie":"Limite de Confiança"},{"amostra":5300,"k":0.0851,"banda":"superior","serie":"Limite de Confiança"},{"amostra":6000,"k":0.0852,"banda":"superior","serie":"Limite de Confiança"},{"amostra":6700,"k":0.0852,"banda":"superior","serie":"Limite de Confiança"},{"amostra":7300,"k":0.0852,"banda":"superior","serie":"Limite de Confiança"},{"amostra":8000,"k":0.0853,"banda":"superior","serie":"Limite de Confiança"},{"amostra":8500,"k":0.0854,"banda":"superior","serie":"Limite de Confiança"},{"amostra":8943,"k":0.0855,"banda":"superior","serie":"Limite de Confiança"},{"amostra":9300,"k":0.0855,"banda":"superior","serie":"Limite de Confiança"},{"amostra":10000,"k":0.0856,"banda":"superior","serie":"Limite de Confiança"},{"amostra":10400,"k":0.0857,"banda":"superior","serie":"Limite de Confiança"},{"amostra":11100,"k":0.0857,"banda":"superior","serie":"Limite de Confiança"},{"amostra":11700,"k":0.0858,"banda":"superior","serie":"Limite de Confiança"},{"amostra":12200,"k":0.0859,"banda":"superior","serie":"Limite de Confiança"},{"amostra":13140,"k":0.0859,"banda":"superior","serie":"Limite de Confiança"},
      {"amostra":0,"k":0.0842,"banda":"inferior","serie":"Limite de Confiança"},{"amostra":54,"k":0.0839,"banda":"inferior","serie":"Limite de Confiança"},{"amostra":121,"k":0.08265,"banda":"inferior","serie":"Limite de Confiança"},{"amostra":161,"k":0.0831,"banda":"inferior","serie":"Limite de Confiança"},{"amostra":228,"k":0.0833,"banda":"inferior","serie":"Limite de Confiança"},{"amostra":322,"k":0.0833,"banda":"inferior","serie":"Limite de Confiança"},{"amostra":456,"k":0.0834,"banda":"inferior","serie":"Limite de Confiança"},{"amostra":590,"k":0.0832,"banda":"inferior","serie":"Limite de Confiança"},{"amostra":812,"k":0.0828,"banda":"inferior","serie":"Limite de Confiança"},{"amostra":1020,"k":0.0828,"banda":"inferior","serie":"Limite de Confiança"},{"amostra":1288,"k":0.0826,"banda":"inferior","serie":"Limite de Confiança"},{"amostra":1420,"k":0.08254,"banda":"inferior","serie":"Limite de Confiança"},{"amostra":1690,"k":0.0825,"banda":"inferior","serie":"Limite de Confiança"},{"amostra":2000,"k":0.0824,"banda":"inferior","serie":"Limite de Confiança"},{"amostra":2340,"k":0.0824,"banda":"inferior","serie":"Limite de Confiança"},{"amostra":2770,"k":0.0823,"banda":"inferior","serie":"Limite de Confiança"},{"amostra":3200,"k":0.0822,"banda":"inferior","serie":"Limite de Confiança"},{"amostra":3600,"k":0.0821,"banda":"inferior","serie":"Limite de Confiança"},{"amostra":4000,"k":0.0820,"banda":"inferior","serie":"Limite de Confiança"},{"amostra":4443,"k":0.0819,"banda":"inferior","serie":"Limite de Confiança"},{"amostra":5000,"k":0.08188,"banda":"inferior","serie":"Limite de Confiança"},{"amostra":5500,"k":0.08188,"banda":"inferior","serie":"Limite de Confiança"},{"amostra":6000,"k":0.08185,"banda":"inferior","serie":"Limite de Confiança"},{"amostra":6500,"k":0.08182,"banda":"inferior","serie":"Limite de Confiança"},{"amostra":7000,"k":0.08182,"banda":"inferior","serie":"Limite de Confiança"},{"amostra":7500,"k":0.08188,"banda":"inferior","serie":"Limite de Confiança"},{"amostra":7800,"k":0.08182,"banda":"inferior","serie":"Limite de Confiança"},{"amostra":8100,"k":0.0819,"banda":"inferior","serie":"Limite de Confiança"},{"amostra":8500,"k":0.0820,"banda":"inferior","serie":"Limite de Confiança"},{"amostra":8943,"k":0.0821,"banda":"inferior","serie":"Limite de Confiança"},{"amostra":9300,"k":0.08215,"banda":"inferior","serie":"Limite de Confiança"},{"amostra":9800,"k":0.08228,"banda":"inferior","serie":"Limite de Confiança"},{"amostra":10200,"k":0.0823,"banda":"inferior","serie":"Limite de Confiança"},{"amostra":10700,"k":0.0824,"banda":"inferior","serie":"Limite de Confiança"},{"amostra":11085,"k":0.0825,"banda":"inferior","serie":"Limite de Confiança"},{"amostra":11700,"k":0.0827,"banda":"inferior","serie":"Limite de Confiança"},{"amostra":12200,"k":0.0828,"banda":"inferior","serie":"Limite de Confiança"},{"amostra":12600,"k":0.0829,"banda":"inferior","serie":"Limite de Confiança"},{"amostra":13140,"k":0.0830,"banda":"inferior","serie":"Limite de Confiança"}
    ]
  },
  "resolve": {"axis": {"x": "independent", "y": "independent"}},
  "layer": [
    {
      "data": {"name": "medicao"},
      "mark": {"type": "line", "clip": true, "strokeWidth": 1},
      "encoding": {
        "x": {
          "field": "amostra", "type": "quantitative",
          "scale": {"domain": [0, 13140], "nice": false, "zero": false},
          "axis": {
            "orient": "bottom",
            "values": [0, 2000, 4000, 6000, 8000, 10000, 12000],
            "format": "d",
            "grid": true,
            "labelPadding": 27,
            "labelFlush": false,
            "title": "Amostra",
            "titlePadding": 3
          }
        },
        "y": {
          "field": "k", "type": "quantitative",
          "scale": {"domain": [0.075, 0.1], "nice": false, "zero": false},
          "axis": {
            "orient": "left",
            "values": [0.075, 0.08, 0.085, 0.09, 0.095, 0.1],
            "format": ".3~f",
            "grid": true,
            "labelPadding": 15,
            "labelFlush": false,
            "title": "K(%)",
            "titleX": -57,
            "titleBaseline": "bottom"
          }
        },
        "color": {
          "field": "serie", "type": "nominal", "title": null,
          "scale": {"domain": ["Medição", "Estimativa", "Limite de Confiança"], "range": ["#0000ff", "#00ffff", "#ff0000"]},
          "legend": {
            "encode": {
              "symbols": {
                "update": {
                  "strokeWidth": {"signal": "datum.value === 'Medição' ? 1 : 4.5"}
                }
              }
            }
          }
        },
        "strokeDash": {
          "field": "serie", "type": "nominal", "title": null,
          "scale": {"domain": ["Medição", "Estimativa", "Limite de Confiança"], "range": [[1, 0], [1, 0], [16, 7]]}
        }
      }
    },
    {
      "data": {"name": "estimativa"},
      "mark": {"type": "line", "clip": true, "strokeWidth": 4.5},
      "encoding": {
        "x": {
          "field": "amostra", "type": "quantitative",
          "axis": {
            "orient": "top",
            "values": [0, 2000, 4000, 6000, 8000, 10000, 12000],
            "labels": false,
            "grid": false,
            "title": null
          }
        },
        "y": {"field": "k", "type": "quantitative", "axis": null},
        "color": {"field": "serie", "type": "nominal", "title": null},
        "strokeDash": {"field": "serie", "type": "nominal", "title": null}
      }
    },
    {
      "data": {"name": "limites"},
      "mark": {"type": "line", "clip": true, "strokeWidth": 4.5},
      "encoding": {
        "x": {"field": "amostra", "type": "quantitative", "axis": null},
        "y": {"field": "k", "type": "quantitative", "axis": null},
        "detail": {"field": "banda", "type": "nominal"},
        "color": {"field": "serie", "type": "nominal", "title": null},
        "strokeDash": {"field": "serie", "type": "nominal", "title": null}
      }
    }
  ]
}
